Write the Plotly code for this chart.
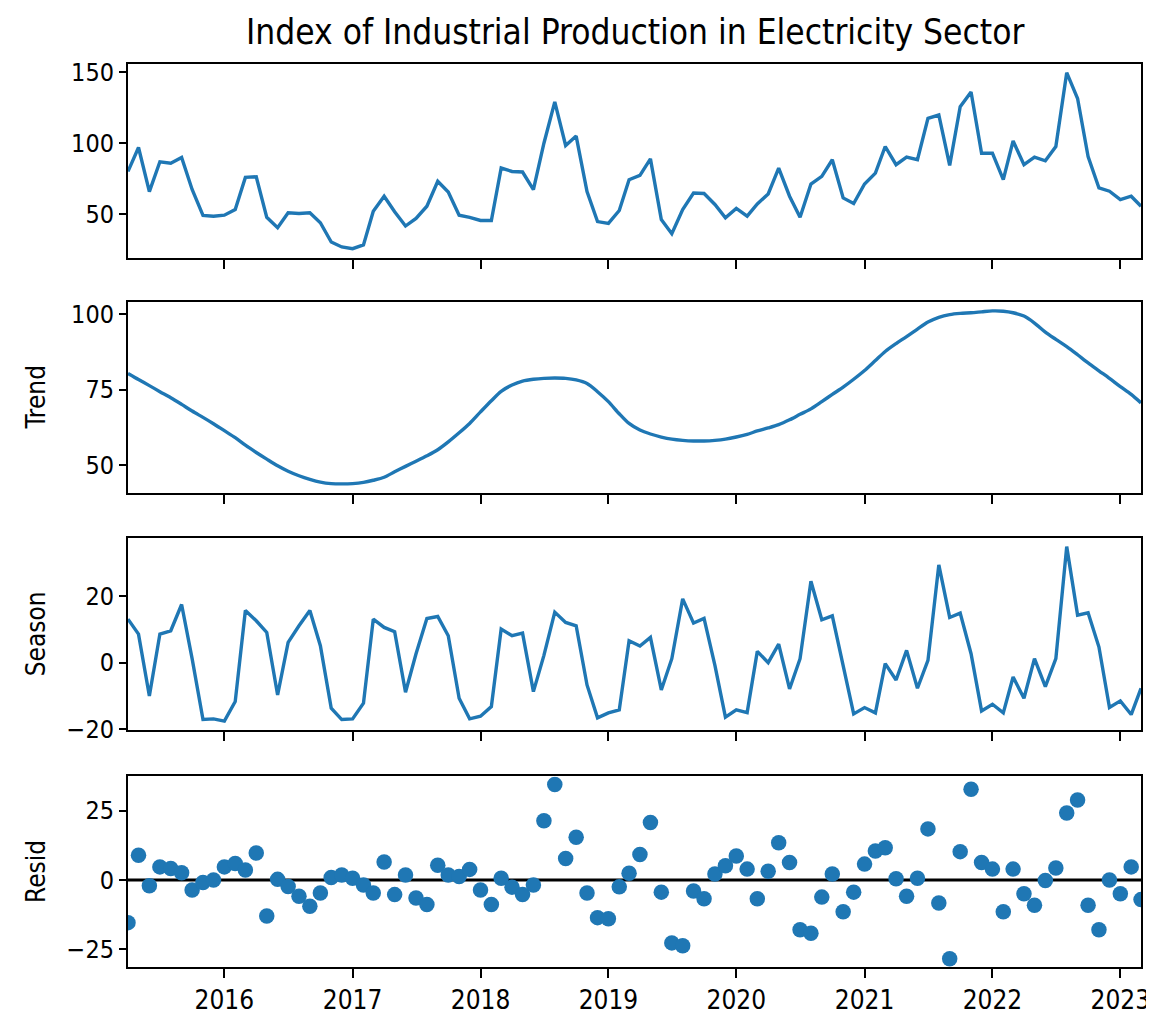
import pandas as pd
import plotly.graph_objects as go
from plotly.subplots import make_subplots

# Monthly observations, 2015-04 .. 2023-03
dates = pd.date_range("2015-04-01", periods=96, freq="MS")

observed = [
    80.2, 97, 66, 87, 86, 90, 67.5, 49.3, 48.8, 49.5, 53.5, 76,
    76.5, 48, 40.7, 51.2, 50.7, 51.2, 44.2, 30.7, 27.2, 26, 28.6, 52.3,
    62.8, 51.9, 41.9, 47.2, 55.8, 73.3, 65.8, 49.5, 48, 45.8, 45.8, 82.6,
    80.2, 79.8, 67.4, 100, 129, 98.4, 105, 66, 45, 43.7, 52.8, 74.4,
    77.4, 89, 46.5, 36.5, 53.5, 65, 64.7, 57, 47.7, 54.2, 48.8, 57.4,
    64.4, 82.6, 62.8, 48, 71.4, 76.7, 88.4, 61.6, 57.7, 71.4, 79, 97.7,
    84.9, 90.2, 88.4, 117.4, 119.8, 84.4, 125.6, 136, 93, 93, 74.4, 101.6,
    84.9, 90.2, 87.7, 97.7, 149.5, 131.4, 90.7, 68.6, 66.3, 60.5, 62.8, 55.8,
]

trend = [
    80.3, 78.3, 76.3, 74.3, 72.3, 70.1, 67.9, 65.8, 63.7, 61.4, 59.1, 56.6,
    54.2, 52.0, 49.8, 48.0, 46.5, 45.3, 44.4, 43.9, 43.8, 43.9, 44.3, 45.0,
    46.0, 47.8, 49.6, 51.3, 53.1, 55.1, 57.7, 60.7, 63.8, 67.6, 71.3, 74.4,
    76.5, 77.8, 78.4, 78.7, 78.8, 78.7, 78.2, 77.0, 74.3, 71.0, 67.0, 63.8,
    61.6, 60.3, 59.3, 58.6, 58.2, 58.0, 58.0, 58.2, 58.6, 59.3, 60.2, 61.3,
    62.3, 63.4, 65.0, 66.8, 68.6, 71.0, 73.4, 75.8, 78.4, 81.3, 84.6, 87.6,
    90.2, 92.5, 95.0, 97.3, 98.9, 99.8, 100.2, 100.4, 100.7, 101.0, 100.9, 100.4,
    99.3, 97.0, 94.0, 91.6, 89.2, 86.5, 83.8, 81.2, 78.7, 76.0, 73.4, 70.6,
]

season = [
    13.1, 8.6, -10, 8.6, 9.6, 17.5, 1.2, -17.1, -16.9, -17.6, -11.7, 15.7,
    12.6, 9.1, -9.7, 6.1, 11.1, 15.7, 5.1, -13.7, -17.1, -16.9, -12.2, 13.1,
    10.6, 9.3, -8.9, 2.7, 13.3, 13.9, 8.1, -10.7, -16.9, -16.1, -13.2, 10.1,
    8.1, 8.9, -8.7, 2.2, 15.2, 12.1, 11.1, -6.7, -16.6, -15.1, -14.2, 6.6,
    5.0, 7.6, -8.2, 1.2, 19.2, 11.9, 13.3, -0.8, -16.4, -14.2, -15.0, 3.4,
    0.0, 5.6, -7.9, 1.2, 24.5, 12.9, 14.1, -0.8, -15.4, -13.5, -15.1, -0.3,
    -5.2, 3.7, -7.7, 0.7, 29.4, 13.6, 14.9, 2.7, -14.5, -12.5, -15.1, -4.3,
    -10.7, 1.2, -7.2, 1.2, 34.9, 14.3, 15.0, 4.7, -13.5, -11.5, -15.6, -7.7,
]

resid = [
    -15.4, 8.9, -2.1, 4.7, 4.1, 2.6, -3.6, -0.9, 0.0, 4.7, 5.9, 3.6,
    9.7, -13.0, 0.2, -2.4, -5.9, -9.5, -4.7, 0.9, 1.8, 0.6, -1.8, -4.7,
    6.5, -5.3, 1.8, -6.5, -8.9, 5.3, 1.8, 1.2, 3.8, -3.6, -8.9, 0.6,
    -2.6, -5.3, -1.8, 21.3, 34.4, 7.7, 15.4, -4.7, -13.6, -14.0, -2.5, 2.4,
    9.2, 20.7, -4.4, -22.7, -23.7, -4.0, -6.8, 2.1, 5.1, 8.6, 3.9, -6.8,
    3.1, 13.4, 6.3, -18.0, -19.2, -6.2, 2.1, -11.5, -4.4, 5.7, 10.4, 11.6,
    0.4, -5.9, 0.6, 18.4, -8.3, -28.4, 10.2, 32.7, 6.3, 3.9, -11.5, 3.9,
    -5.0, -9.1, -0.2, 4.3, 24.1, 28.8, -9.1, -18.0, 0.0, -5.0, 4.7, -7.1,
]

year_ticks = [f"{y}-01-01" for y in range(2016, 2024)]
year_labels = [str(y) for y in range(2016, 2024)]

title_text = "Index of Industrial Production in Electricity Sector"
panel_labels = [None, "Trend", "Season", "Resid"]
y_ranges = [[19.8, 155.6], [40.9, 103.9], [-20.2, 37.4], [-31.4, 37.3]]
y_ticks = [[50, 100, 150], [50, 75, 100], [-20, 0, 20], [-25, 0, 25]]

BLUE = "#1f77b4"
FONT = "DejaVu Sans Condensed, Liberation Sans Narrow, DejaVu Sans, sans-serif"

fig = make_subplots(rows=4, cols=1, shared_xaxes=False)

fig.add_trace(go.Scatter(x=dates, y=observed, mode="lines",
                         line=dict(color=BLUE, width=3.4)), row=1, col=1)
fig.add_trace(go.Scatter(x=dates, y=trend, mode="lines",
                         line=dict(color=BLUE, width=3.4, shape="spline",
                                   smoothing=0.8)), row=2, col=1)
fig.add_trace(go.Scatter(x=dates, y=season, mode="lines",
                         line=dict(color=BLUE, width=3.4)), row=3, col=1)
fig.add_trace(go.Scatter(x=dates, y=resid, mode="markers",
                         marker=dict(color=BLUE, size=15.5, line=dict(width=0))),
              row=4, col=1)

W, H = 1154, 1019
L, R, T, B = 120, 1135, 56, 966
panels_px = [(56, 251), (296, 488), (534, 727), (774, 966)]
total = B - T

for k, (top, bot) in enumerate(panels_px):
    r = k + 1
    d0 = (B - bot) / total
    d1 = (B - top) / total
    fig.update_yaxes(
        domain=[d0, d1], range=y_ranges[k], tickvals=y_ticks[k],
        showline=True, linecolor="black", linewidth=2, mirror=True,
        ticks="outside", ticklen=7, tickwidth=2, tickcolor="black",
        showgrid=False, zeroline=False,
        tickfont=dict(family=FONT, size=25, color="black"),
        row=r, col=1)
    fig.update_xaxes(
        range=[dates[0], dates[-1]], tickvals=year_ticks, ticktext=year_labels,
        showticklabels=(r == 4),
        showline=True, linecolor="black", linewidth=2, mirror=True,
        ticks="outside", ticklen=9, tickwidth=2, tickcolor="black",
        showgrid=False, zeroline=False,
        tickfont=dict(family=FONT, size=26, color="black"),
        row=r, col=1)
    if panel_labels[k]:
        fig.add_annotation(
            text=panel_labels[k], textangle=-90,
            xref="paper", x=(28 - L) / (R - L), xanchor="center",
            yref=f"y{'' if r == 1 else r} domain", y=0.5, yanchor="middle",
            showarrow=False, font=dict(family=FONT, size=26, color="black"))

fig.add_annotation(
    text=title_text, xref="paper", x=0.5, xanchor="center",
    yref="paper", y=(B - 24) / total, yanchor="middle",
    showarrow=False, font=dict(family=FONT, size=35, color="black"))

fig.add_shape(type="line", xref="x4 domain", x0=0, x1=1, yref="y4", y0=0, y1=0,
              line=dict(color="black", width=3), layer="below")

fig.update_layout(
    width=W, height=H,
    margin=dict(l=L, r=W - R, t=T, b=H - B),
    paper_bgcolor="white", plot_bgcolor="white",
    showlegend=False,
)

fig.write_html("out.html")
